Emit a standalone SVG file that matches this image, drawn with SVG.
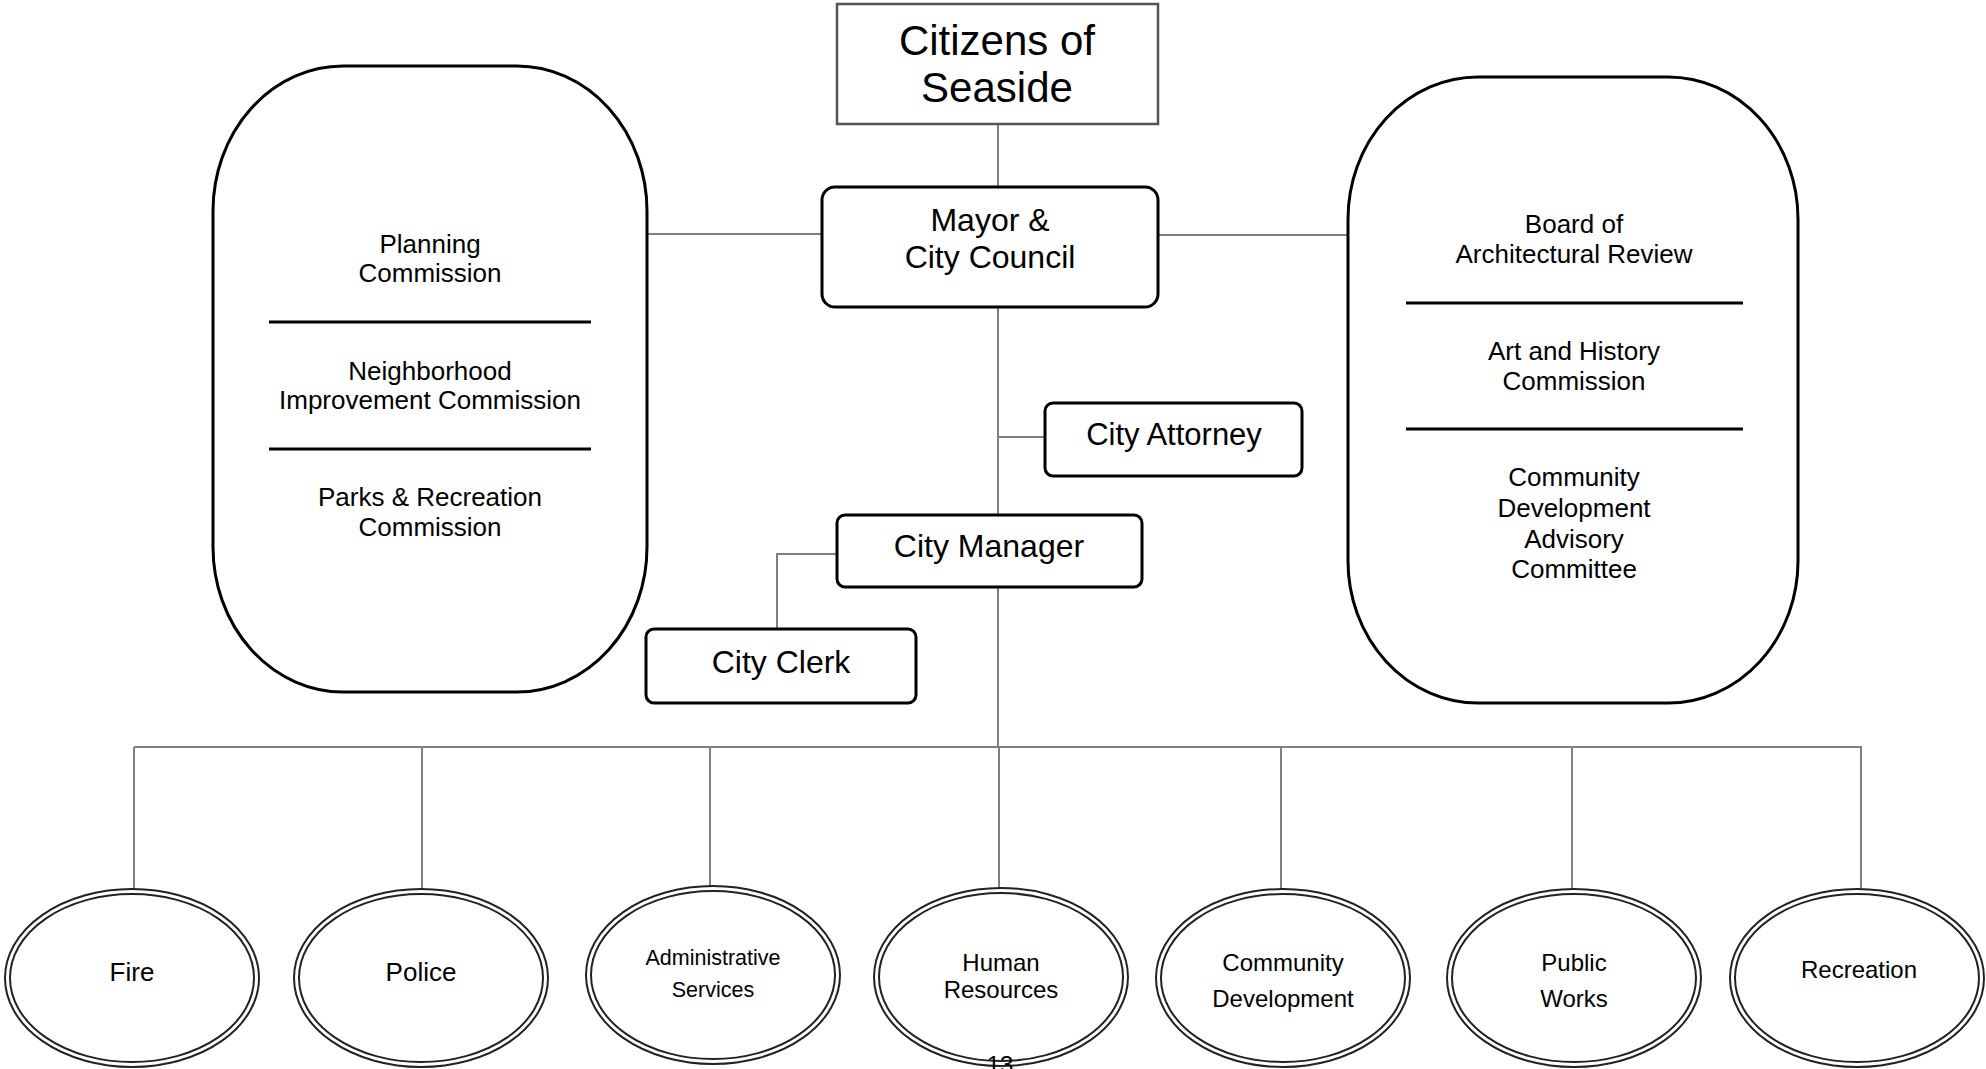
<svg xmlns="http://www.w3.org/2000/svg" width="1986" height="1069" viewBox="0 0 1986 1069">
<style>
text{font-family:"Liberation Sans",Arial,sans-serif;fill:#000;text-anchor:middle}
.conn{stroke:#808080;stroke-width:2;fill:none}
.box{fill:#fff;stroke:#000;stroke-width:3}
.div{stroke:#000;stroke-width:3}
.eo{fill:#fff;stroke:#222;stroke-width:2}
.ei{fill:none;stroke:#222;stroke-width:2}
.dept{font-size:26px}
.d2{font-size:24px}
.cm{font-size:26px}
</style>
<rect width="1986" height="1069" fill="#fff"/>
<g id="connectors">
<line class="conn" x1="998" y1="124" x2="998" y2="187"/>
<line class="conn" x1="647" y1="234" x2="822" y2="234"/>
<line class="conn" x1="1158" y1="235" x2="1348" y2="235"/>
<line class="conn" x1="998" y1="307" x2="998" y2="515"/>
<line class="conn" x1="998" y1="437" x2="1045" y2="437"/>
<polyline class="conn" points="837,554 777,554 777,629"/>
<line class="conn" x1="998" y1="587" x2="998" y2="747"/>
<line class="conn" x1="134" y1="747" x2="1862" y2="747"/>
<line class="conn" x1="134" y1="747" x2="134" y2="889"/>
<line class="conn" x1="422" y1="747" x2="422" y2="889"/>
<line class="conn" x1="710" y1="747" x2="710" y2="886"/>
<line class="conn" x1="999" y1="747" x2="999" y2="888"/>
<line class="conn" x1="1281" y1="747" x2="1281" y2="889"/>
<line class="conn" x1="1572" y1="747" x2="1572" y2="889"/>
<line class="conn" x1="1861" y1="747" x2="1861" y2="889"/>
</g>
<g id="citizens">
<rect x="837" y="4" width="321" height="120" fill="#fff" stroke="#555" stroke-width="2.5"/>
<text x="997" y="55" font-size="42">Citizens of</text>
<text x="997" y="102" font-size="42">Seaside</text>
</g>
<g id="mayor">
<rect class="box" x="822" y="187" width="336" height="120" rx="13"/>
<text x="990" y="231" font-size="32">Mayor &amp;</text>
<text x="990" y="268" font-size="32">City Council</text>
</g>
<g id="commissions-left">
<rect class="box" x="213" y="66" width="434" height="626" rx="130" ry="145"/>
<line class="div" x1="269" y1="322" x2="591" y2="322"/>
<line class="div" x1="269" y1="449" x2="591" y2="449"/>
<text class="cm" x="430" y="253">Planning</text>
<text class="cm" x="430" y="282">Commission</text>
<text class="cm" x="430" y="380">Neighborhood</text>
<text class="cm" x="430" y="409">Improvement Commission</text>
<text class="cm" x="430" y="506">Parks &amp; Recreation</text>
<text class="cm" x="430" y="536">Commission</text>
</g>
<g id="commissions-right">
<rect class="box" x="1348" y="77" width="450" height="626" rx="130" ry="142"/>
<line class="div" x1="1406" y1="303" x2="1743" y2="303"/>
<line class="div" x1="1406" y1="429" x2="1743" y2="429"/>
<text class="cm" x="1574" y="233">Board of</text>
<text class="cm" x="1574" y="263">Architectural Review</text>
<text class="cm" x="1574" y="360">Art and History</text>
<text class="cm" x="1574" y="390">Commission</text>
<text class="cm" x="1574" y="486">Community</text>
<text class="cm" x="1574" y="517">Development</text>
<text class="cm" x="1574" y="548">Advisory</text>
<text class="cm" x="1574" y="578">Committee</text>
</g>
<g id="city-attorney">
<rect class="box" x="1045" y="403" width="257" height="73" rx="8"/>
<text x="1174" y="445" font-size="31">City Attorney</text>
</g>
<g id="city-manager">
<rect class="box" x="837" y="515" width="305" height="72" rx="8"/>
<text x="989" y="557" font-size="32">City Manager</text>
</g>
<g id="city-clerk">
<rect class="box" x="646" y="629" width="270" height="74" rx="8"/>
<text x="781" y="673" font-size="32">City Clerk</text>
</g>
<g id="fire">
<ellipse class="eo" cx="132" cy="978" rx="127" ry="89"/>
<ellipse class="ei" cx="132" cy="978" rx="122" ry="84"/>
<text class="dept" x="132" y="981">Fire</text>
</g>
<g id="police">
<ellipse class="eo" cx="421" cy="978" rx="127" ry="89"/>
<ellipse class="ei" cx="421" cy="978" rx="122" ry="84"/>
<text class="dept" x="421" y="981">Police</text>
</g>
<g id="admin-services">
<ellipse class="eo" cx="713" cy="975" rx="127" ry="89"/>
<ellipse class="ei" cx="713" cy="975" rx="122" ry="84"/>
<text x="713" y="965" font-size="21.5">Administrative</text>
<text x="713" y="997" font-size="21.5">Services</text>
</g>
<g id="human-resources">
<ellipse class="eo" cx="1001" cy="977" rx="127" ry="89"/>
<ellipse class="ei" cx="1001" cy="977" rx="122" ry="84"/>
<text class="d2" x="1001" y="971">Human</text>
<text class="d2" x="1001" y="998">Resources</text>
</g>
<g id="community-development">
<ellipse class="eo" cx="1283" cy="978" rx="127" ry="89"/>
<ellipse class="ei" cx="1283" cy="978" rx="122" ry="84"/>
<text class="d2" x="1283" y="971">Community</text>
<text class="d2" x="1283" y="1007">Development</text>
</g>
<g id="public-works">
<ellipse class="eo" cx="1574" cy="978" rx="127" ry="89"/>
<ellipse class="ei" cx="1574" cy="978" rx="122" ry="84"/>
<text class="d2" x="1574" y="971">Public</text>
<text class="d2" x="1574" y="1007">Works</text>
</g>
<g id="recreation">
<ellipse class="eo" cx="1857" cy="978" rx="127" ry="89"/>
<ellipse class="ei" cx="1857" cy="978" rx="122" ry="84"/>
<text class="d2" x="1859" y="978">Recreation</text>
</g>
<text x="1000" y="1073" font-size="24">13</text>
</svg>
